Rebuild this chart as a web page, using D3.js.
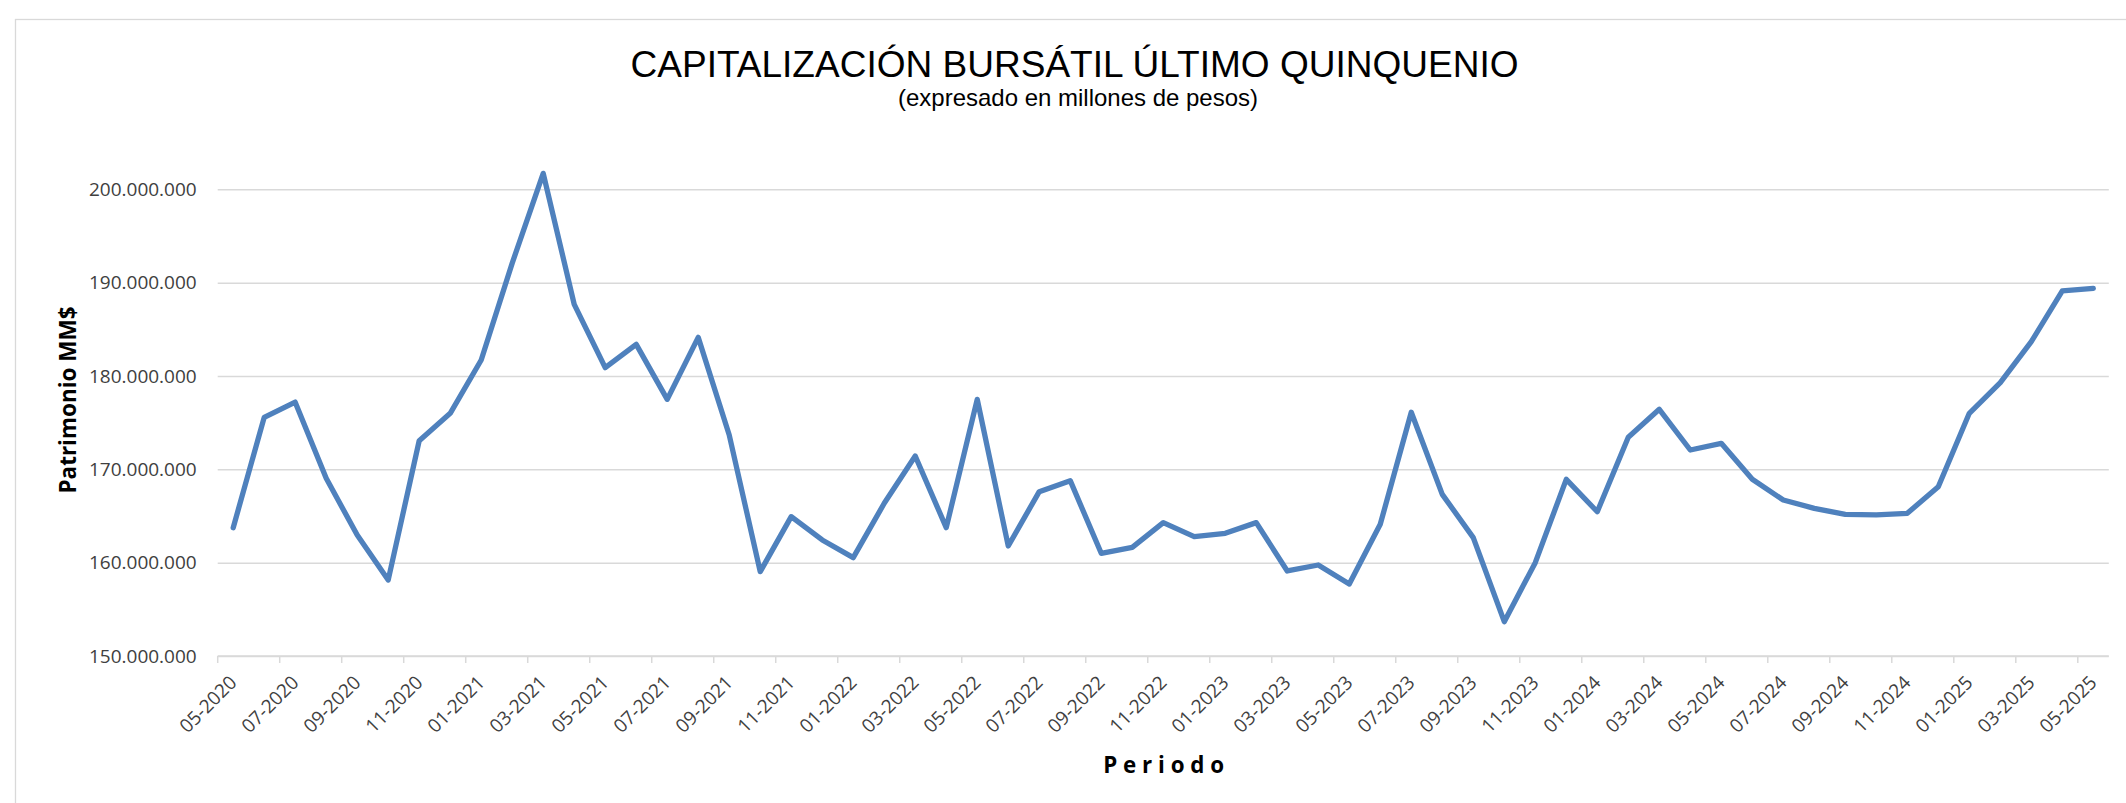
<!DOCTYPE html>
<html>
<head>
<meta charset="utf-8">
<script src="https://cdn.jsdelivr.net/npm/d3@7"></script>
<style>
  html, body { margin: 0; padding: 0; background: #ffffff; }
  svg { display: block; }
</style>
</head>
<body>
<svg id="chart" width="2126" height="803"></svg>
<script>
// ---- DATA ----
const months = [
  "05-2020","06-2020","07-2020","08-2020","09-2020","10-2020","11-2020","12-2020",
  "01-2021","02-2021","03-2021","04-2021","05-2021","06-2021","07-2021","08-2021","09-2021","10-2021","11-2021","12-2021",
  "01-2022","02-2022","03-2022","04-2022","05-2022","06-2022","07-2022","08-2022","09-2022","10-2022","11-2022","12-2022",
  "01-2023","02-2023","03-2023","04-2023","05-2023","06-2023","07-2023","08-2023","09-2023","10-2023","11-2023","12-2023",
  "01-2024","02-2024","03-2024","04-2024","05-2024","06-2024","07-2024","08-2024","09-2024","10-2024","11-2024","12-2024",
  "01-2025","02-2025","03-2025","04-2025","05-2025"
];
const patrimonio = [
  163750000, 175570000, 177200000, 169040000, 162960000, 158140000, 173070000, 176000000,
  181710000, 192100000, 201710000, 187680000, 180890000, 183390000, 177500000, 184140000, 173680000, 159040000, 164930000, 162430000,
  160540000, 166360000, 171430000, 163750000, 177500000, 161790000, 167610000, 168790000, 161000000, 161640000, 164290000, 162790000,
  163140000, 164290000, 159110000, 159750000, 157710000, 164110000, 176110000, 167320000, 162680000, 153680000, 160000000, 168930000,
  165460000, 173430000, 176430000, 172070000, 172790000, 168930000, 166710000, 165820000, 165180000, 165110000, 165290000, 168140000,
  176000000, 179290000, 183680000, 189110000, 189390000
];
const xTickLabels = [
  "05-2020","07-2020","09-2020","11-2020","01-2021","03-2021","05-2021","07-2021","09-2021","11-2021",
  "01-2022","03-2022","05-2022","07-2022","09-2022","11-2022","01-2023","03-2023","05-2023","07-2023",
  "09-2023","11-2023","01-2024","03-2024","05-2024","07-2024","09-2024","11-2024","01-2025","03-2025","05-2025"
];
const yTickValues = [150000000, 160000000, 170000000, 180000000, 190000000, 200000000];
const titleText = "CAPITALIZACIÓN BURSÁTIL ÚLTIMO QUINQUENIO";
const subtitleText = "(expresado en millones de pesos)";
const yTitleText = "Patrimonio MM$";
const xTitleText = "P e r i o d o";

// ---- LAYOUT ----
const svg = d3.select("#chart");
const plotLeft = 217.7, plotRight = 2108.8, plotTop = 170.67, plotBottom = 656;
const gridColor = "#d9d9d9";
const labelColor = "#404040";
const lineColor = "#4f81bd";

svg.append("rect").attr("x", 0).attr("y", 0).attr("width", 2126).attr("height", 803).attr("fill", "#fff");
svg.append("rect")
  .attr("x", 15.5).attr("y", 19.5).attr("width", 2200).attr("height", 900)
  .attr("fill", "none").attr("stroke", gridColor).attr("stroke-width", 1.3);

const x = d3.scaleBand().domain(months).range([plotLeft, plotRight]).padding(0);
const y = d3.scaleLinear().domain([150000000, 202000000]).range([plotBottom, plotTop]);
const bw = x.bandwidth();

const locale = d3.formatLocale({ decimal: ",", thousands: ".", grouping: [3], currency: ["$", ""] });
const fmt = locale.format(",");

// Gridlines
const grid = svg.append("g").attr("transform", `translate(${plotLeft},0)`)
  .call(d3.axisLeft(y).tickValues(yTickValues).tickSize(-(plotRight - plotLeft)).tickFormat(""));
grid.select(".domain").remove();
grid.selectAll("line").attr("stroke", gridColor).attr("stroke-width", 1.5);

// Y axis labels
const yAxis = svg.append("g").attr("transform", `translate(${plotLeft},0)`)
  .call(d3.axisLeft(y).tickValues(yTickValues).tickSize(0).tickPadding(21).tickFormat(fmt));
yAxis.select(".domain").remove();
yAxis.selectAll("text")
  .attr("font-family", "'Open Sans', sans-serif").attr("font-size", 19).attr("fill", labelColor);

// X axis
const xAxis = svg.append("g").attr("transform", `translate(0,${plotBottom})`)
  .call(d3.axisBottom(x).tickValues(xTickLabels).tickSize(7).tickPadding(0));
xAxis.select(".domain").attr("stroke", gridColor).attr("stroke-width", 1.5)
  .attr("d", `M${plotLeft},0H${plotRight}`);
xAxis.selectAll(".tick line").attr("stroke", gridColor).attr("stroke-width", 1.5)
  .attr("x1", -bw / 2).attr("x2", -bw / 2);
xAxis.selectAll(".tick text")
  .attr("font-family", "'Open Sans', sans-serif").attr("font-size", 19).attr("fill", labelColor)
  .attr("text-anchor", "end").attr("dy", "0.35em")
  .attr("transform", "translate(0,23) rotate(-45)")
  .attr("y", 0).attr("x", 0);

// Line
const line = d3.line()
  .x((d, i) => x(months[i]) + bw / 2)
  .y(d => y(d));
svg.append("path").datum(patrimonio)
  .attr("d", line).attr("fill", "none")
  .attr("stroke", lineColor).attr("stroke-width", 5.3)
  .attr("stroke-linejoin", "round").attr("stroke-linecap", "round");

// Titles
svg.append("text").text(titleText)
  .attr("x", 1074.5).attr("y", 76.7).attr("text-anchor", "middle")
  .attr("font-family", "'Liberation Sans', Arial, sans-serif").attr("font-size", 36)
  .attr("textLength", 888).attr("lengthAdjust", "spacingAndGlyphs").attr("fill", "#000");
svg.append("text").text(subtitleText)
  .attr("x", 1078).attr("y", 106).attr("text-anchor", "middle")
  .attr("font-family", "'Liberation Sans', Arial, sans-serif").attr("font-size", 24)
  .attr("textLength", 360).attr("lengthAdjust", "spacingAndGlyphs").attr("fill", "#000");
svg.append("text").text(yTitleText)
  .attr("transform", "translate(75.5,400) rotate(-90)").attr("text-anchor", "middle")
  .attr("font-family", "'Open Sans', sans-serif").attr("font-weight", "bold").attr("font-size", 23)
  .attr("textLength", 187).attr("lengthAdjust", "spacingAndGlyphs").attr("fill", "#000");
svg.append("text").text(xTitleText)
  .attr("x", 1163.7).attr("y", 772.7).attr("text-anchor", "middle")
  .attr("font-family", "'Open Sans', sans-serif").attr("font-weight", "bold").attr("font-size", 23)
  .attr("textLength", 121).attr("lengthAdjust", "spacingAndGlyphs").attr("fill", "#000");
</script>
</body>
</html>
